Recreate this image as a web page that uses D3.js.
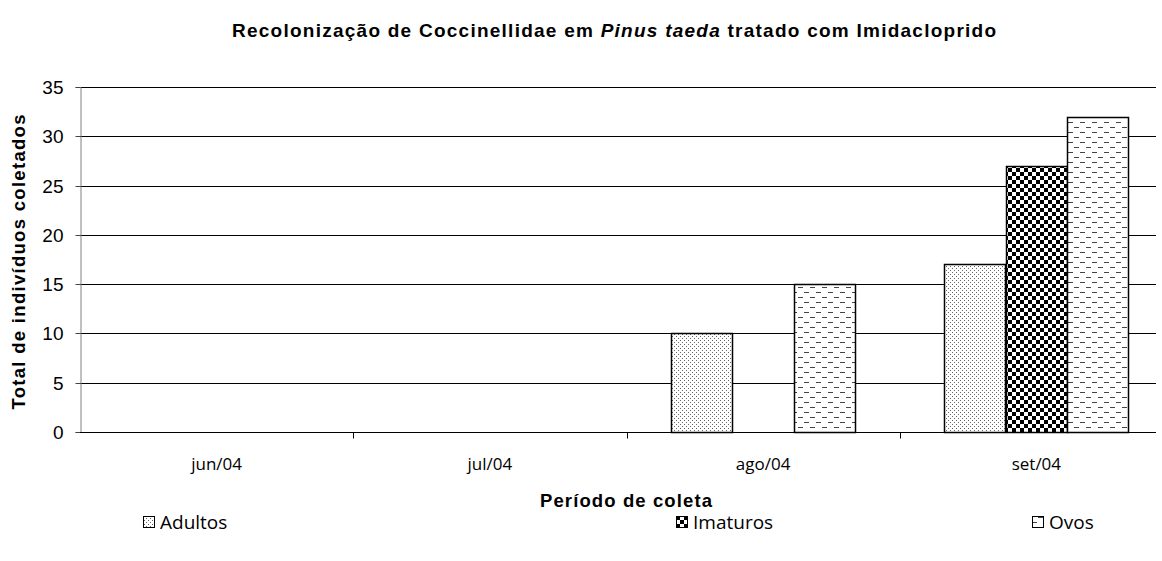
<!DOCTYPE html>
<html><head><meta charset="utf-8">
<script src="https://cdn.jsdelivr.net/npm/d3@7"></script>
<style>body{margin:0;background:#fff}svg{display:block;font-family:"Liberation Sans",Arial,sans-serif}</style>
</head><body>
<svg id="c" width="1162" height="561"></svg>
<script>
const categories = ["jun/04","jul/04","ago/04","set/04"];
const seriesNames = ["Adultos","Imaturos","Ovos"];
const adultos = [0,0,10,17];
const imaturos = [0,0,0,27];
const ovos = [0,0,15,32];
const yTicks = [0,5,10,15,20,25,30,35];
const seriesValues = [adultos, imaturos, ovos];

(function(){
const svg = d3.select("#c");
const defs = svg.append("defs");
// Adultos: fine dots
const p1 = defs.append("pattern").attr("id","pat0").attr("patternUnits","userSpaceOnUse").attr("width",4).attr("height",4);
p1.append("rect").attr("width",4).attr("height",4).attr("fill","#fff");
p1.append("rect").attr("x",0).attr("y",0).attr("width",1).attr("height",1).attr("fill","#666");
p1.append("rect").attr("x",2).attr("y",2).attr("width",1).attr("height",1).attr("fill","#666");
// Imaturos: checkerboard
const p2 = defs.append("pattern").attr("id","pat1").attr("patternUnits","userSpaceOnUse").attr("width",8).attr("height",8);
p2.append("rect").attr("width",8).attr("height",8).attr("fill","#fff");
p2.append("rect").attr("x",0).attr("y",0).attr("width",4).attr("height",4).attr("fill","#000");
p2.append("rect").attr("x",4).attr("y",4).attr("width",4).attr("height",4).attr("fill","#000");
// Ovos: dashes
const p3 = defs.append("pattern").attr("id","pat2").attr("patternUnits","userSpaceOnUse").attr("width",12).attr("height",10);
p3.append("rect").attr("width",12).attr("height",10).attr("fill","#fff");
p3.append("rect").attr("x",0).attr("y",2).attr("width",5).attr("height",1).attr("fill","#444");
p3.append("rect").attr("x",6).attr("y",7).attr("width",5).attr("height",1).attr("fill","#444");

const mLeft = 80, mRight = 1173, mTop = 87, mBottom = 432, lineEnd = 1156;
const x = d3.scaleBand().domain(categories).range([mLeft,mRight]);
const xs = d3.scaleBand().domain(seriesNames).range([0, x.bandwidth()]).paddingOuter(0.73).paddingInner(0);
const y = d3.scaleLinear().domain([0,35]).range([mBottom, mTop]);

// gridlines
svg.append("g").selectAll("line").data(yTicks.filter(d=>d>0)).join("line")
  .attr("x1",mLeft).attr("x2",lineEnd).attr("y1",d=>Math.round(y(d))+0.5).attr("y2",d=>Math.round(y(d))+0.5)
  .attr("stroke","#000").attr("stroke-width",1);

// bars
const g = svg.append("g");
categories.forEach((c,ci)=>{
  seriesNames.forEach((s,si)=>{
    const v = seriesValues[si][ci];
    if (v<=0) return;
    g.append("rect")
      .attr("x", Math.round(x(c)+xs(s))+0.5)
      .attr("y", Math.round(y(v))+0.5)
      .attr("width", Math.round(xs.bandwidth()))
      .attr("height", Math.round(y(0)-y(v)))
      .attr("fill", `url(#pat${si})`).attr("stroke","#000").attr("stroke-width",1.5);
  });
});

// y axis
const ya = svg.append("g").attr("transform",`translate(${mLeft+0.5},0)`)
  .call(d3.axisLeft(y).tickValues(yTicks).tickSize(5).tickPadding(12));
ya.select(".domain").attr("stroke","#808080");
ya.selectAll(".tick line").attr("stroke","#444");
ya.selectAll("text").attr("font-size",19).attr("fill","#000").attr("font-family","Liberation Sans, Arial");
ya.selectAll(".tick").attr("transform",d=>`translate(0,${Math.round(y(d))+0.5})`);

// x axis
const xa = svg.append("g").attr("transform",`translate(0,${mBottom+0.5})`);
xa.append("line").attr("x1",mLeft).attr("x2",lineEnd).attr("stroke","#000");
xa.selectAll(".tk").data(categories.slice(0,3)).join("line")
  .attr("x1",d=>Math.round(x(d)+x.bandwidth())+0.5).attr("x2",d=>Math.round(x(d)+x.bandwidth())+0.5)
  .attr("y1",0).attr("y2",6).attr("stroke","#000");
xa.selectAll("text").data(categories).join("text")
  .attr("x",d=>x(d)+x.bandwidth()/2).attr("y",37).attr("text-anchor","middle")
  .attr("font-size",17).attr("font-family","Open Sans, sans-serif").text(d=>d);

// titles
const t = svg.append("text").attr("x",614).attr("y",37).attr("text-anchor","middle")
  .attr("font-size",19).attr("font-weight","bold")
  .attr("textLength",764).attr("lengthAdjust","spacing");
t.append("tspan").text("Recolonização de Coccinellidae em ");
t.append("tspan").attr("font-style","italic").text("Pinus taeda");
t.append("tspan").text("  tratado com Imidacloprido");

svg.append("text").attr("x",626).attr("y",507).attr("text-anchor","middle")
  .attr("font-size",18.5).attr("font-weight","bold")
  .attr("textLength",172).attr("lengthAdjust","spacing").text("Período de coleta");
svg.append("text").attr("transform",`translate(25,262) rotate(-90)`).attr("text-anchor","middle")
  .attr("font-size",18.5).attr("font-weight","bold")
  .attr("textLength",295).attr("lengthAdjust","spacing").text("Total de indivíduos coletados");

// legend
const legX = [143, 676, 1032];
const lg = svg.append("g");
seriesNames.forEach((s,i)=>{
  lg.append("rect").attr("x",legX[i]+0.5).attr("y",516.5).attr("width",11).attr("height",11)
    .attr("fill",`url(#pat${i})`).attr("stroke","#000").attr("stroke-width",1);
  lg.append("text").attr("x",legX[i]+17).attr("y",529).attr("font-size",19)
    .attr("font-family","Open Sans, sans-serif").text(s);
});
})();
</script>
</body></html>
